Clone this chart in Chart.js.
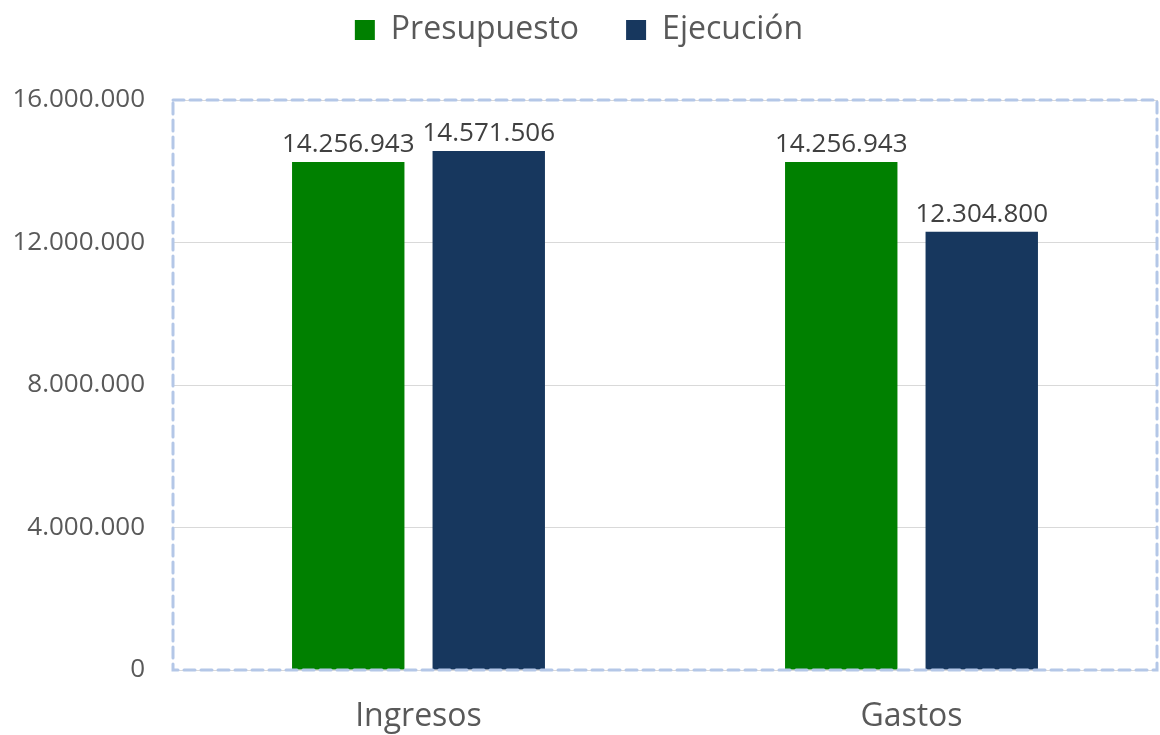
<!DOCTYPE html>
<html>
<head>
<meta charset="utf-8">
<script src="https://cdn.jsdelivr.net/npm/chart.js@4.4.1/dist/chart.umd.min.js"></script>
<style>
  html, body { margin: 0; padding: 0; background: #ffffff; }
  #wrap { width: 1160px; height: 735px; }
</style>
</head>
<body>
<div id="wrap"><canvas id="c" width="1160" height="735"></canvas></div>
<script>
const categories = ['Ingresos', 'Gastos'];
const seriesNames = ['Presupuesto', 'Ejecución'];
const presupuesto = [14256943, 14256943];
const ejecucion = [14571506, 12304800];
const yTicks = [0, 4000000, 8000000, 12000000, 16000000];

const FONT = "'Open Sans', sans-serif";

function fmt(v) {
  return String(Math.round(v)).replace(/\B(?=(\d{3})+(?!\d))/g, '.');
}

// dashed frame around the plot area
const frame = {
  id: 'frame',
  afterDraw(chart) {
    const a = chart.chartArea, ctx = chart.ctx;
    ctx.save();
    ctx.strokeStyle = '#b4c7e7';
    ctx.lineWidth = 3;
    ctx.setLineDash([11, 6]);
    ctx.lineCap = 'round';
    ctx.strokeRect(a.left + 1, a.top, a.right - a.left - 2, a.bottom - a.top);
    ctx.restore();
  }
};

// value labels above each bar
const valueLabels = {
  id: 'valueLabels',
  afterDatasetsDraw(chart) {
    const ctx = chart.ctx;
    ctx.save();
    ctx.font = '26px ' + FONT;
    ctx.fillStyle = '#404040';
    ctx.textAlign = 'center';
    ctx.textBaseline = 'alphabetic';
    chart.data.datasets.forEach((ds, i) => {
      chart.getDatasetMeta(i).data.forEach((bar, j) => {
        ctx.fillText(fmt(ds.data[j]), bar.x, bar.y - 10);
      });
    });
    ctx.restore();
  }
};

// fixed legend band height; items drawn higher than the wide item padding would put them
const LEGEND_SHIFT = 33;
const legendBand = {
  id: 'legendBand',
  afterInit(chart) {
    const lg = chart.legend;
    if (lg && !lg._wrapped) {
      const origFit = lg.fit;
      lg.fit = function () { origFit.call(this); this.height = 100; };
      const origDraw = lg.draw;
      lg.draw = function () {
        this.top -= LEGEND_SHIFT;
        origDraw.call(this);
        this.top += LEGEND_SHIFT;
      };
      lg._wrapped = true;
    }
  }
};

new Chart(document.getElementById('c'), {
  type: 'bar',
  data: {
    labels: categories,
    datasets: [
      { label: seriesNames[0], data: presupuesto, backgroundColor: '#008000',
        categoryPercentage: 0.57, barPercentage: 0.8 },
      { label: seriesNames[1], data: ejecucion, backgroundColor: '#17375e',
        categoryPercentage: 0.57, barPercentage: 0.8 }
    ]
  },
  options: {
    responsive: false,
    animation: false,
    layout: { padding: { left: 0, right: 2, top: 0, bottom: 0 } },
    plugins: {
      tooltip: { enabled: false },
      legend: {
        position: 'top',
        labels: {
          font: { family: FONT, size: 32 },
          color: '#595959',
          boxWidth: 20,
          boxHeight: 20,
          padding: 47
        }
      }
    },
    scales: {
      x: {
        grid: { display: false },
        border: { display: false },
        ticks: { font: { family: FONT, size: 32 }, color: '#595959', padding: 20 },
        afterFit(s) { s.height = 65; }
      },
      y: {
        min: 0,
        max: 16000000,
        afterBuildTicks(s) { s.ticks = yTicks.map(v => ({ value: v })); },
        grid: { color: '#d9d9d9', lineWidth: 1, drawTicks: false },
        border: { display: false },
        ticks: {
          font: { family: FONT, size: 26 },
          color: '#595959',
          padding: 27,
          callback: v => fmt(v)
        },
        afterFit(s) { s.width = 172; }
      }
    }
  },
  plugins: [legendBand, frame, valueLabels]
});
</script>
</body>
</html>
